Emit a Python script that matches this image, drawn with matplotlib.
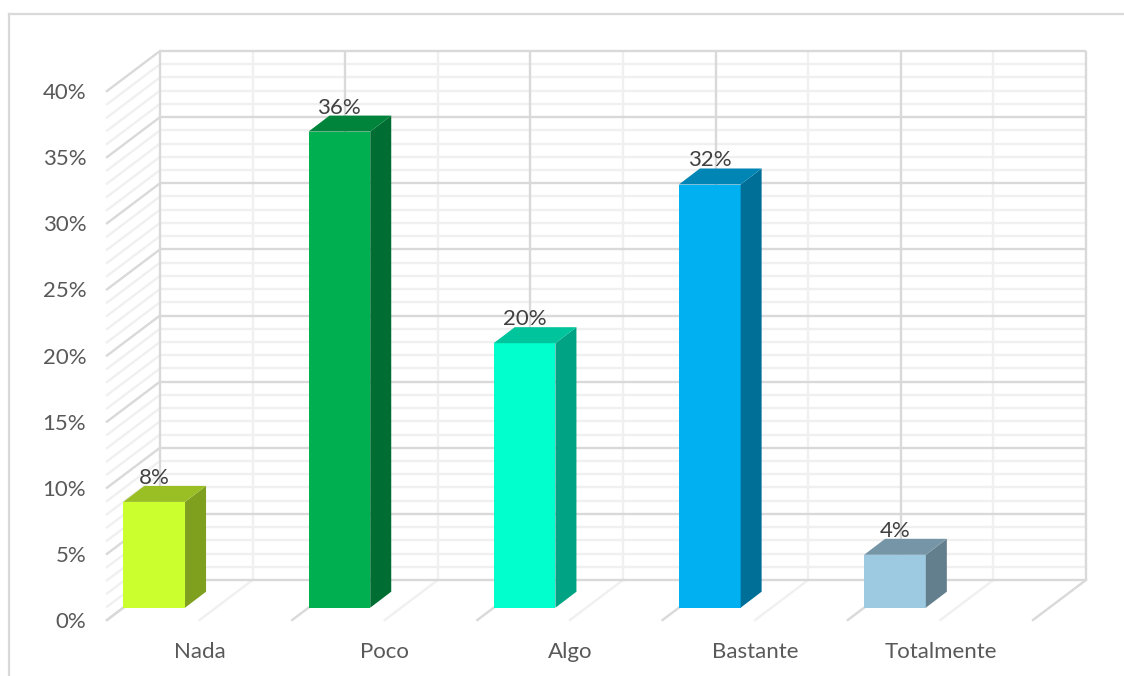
import numpy as np
import matplotlib
matplotlib.use("Agg")
import matplotlib.pyplot as plt
from matplotlib.lines import Line2D
from matplotlib.patches import Polygon
from matplotlib.transforms import Affine2D, IdentityTransform

categories = ["Nada", "Poco", "Algo", "Bastante", "Totalmente"]
values = [8, 36, 20, 32, 4]
front_colors = ["#CCFF2E", "#00B050", "#00FFCC", "#00B0F0", "#9DCAE0"]
top_colors = ["#9ABF24", "#00843C", "#00C49C", "#0085B5", "#7696A8"]
side_colors = ["#7F9F1E", "#006E32", "#00A383", "#006F97", "#637F8D"]
y_ticks = list(range(0, 41, 5))
y_labels = [f"{t}%" for t in y_ticks]

W, H = 1124, 676
MAJOR, MINOR = "#D9D9D9", "#F0F0F0"
TICK_COL, LABEL_COL = "#595959", "#404040"
plt.rcParams["font.family"] = ["Lato", "DejaVu Sans"]

fig = plt.figure(figsize=(W / 100, H / 100), dpi=100, facecolor="white")
ax = fig.add_axes([107 / W, (H - 620) / H, 926 / W, 529 / H])
ax.set_xlim(0, 5)
ax.set_ylim(0, 40)
ax.autoscale(False)
for s in ax.spines.values():
    s.set_visible(False)
ax.patch.set_visible(False)
ax.set_yticks(y_ticks, y_labels, fontsize=16, color=TICK_COL)
ax.set_xticks(np.arange(len(categories)) + 0.5, categories, fontsize=16, color=TICK_COL)
ax.tick_params(axis="y", length=0, pad=15)
ax.tick_params(axis="x", length=0, pad=15.5)

wall = Affine2D().translate(53, 40)
wall_tr = ax.transData + wall
lw = 1.7

# Back wall + left wall horizontals
for v in range(0, 41):
    major = v % 5 == 0
    col, z = (MAJOR, 2) if major else (MINOR, 1)
    ax.plot([0, 5], [v, v], transform=wall_tr, color=col, lw=lw, zorder=z,
            clip_on=False, solid_capstyle="butt")
    p0 = ax.transData.transform((0, v))
    ax.add_line(Line2D([p0[0], p0[0] + 53], [p0[1], p0[1] + 40], transform=IdentityTransform(),
                       color=col, lw=lw, zorder=z, clip_on=False))

# Back wall verticals + floor lines
for i in range(0, 11):
    x = i / 2
    major = i % 2 == 0
    col, z = (MAJOR, 2) if major else (MINOR, 1)
    ax.plot([x, x], [0, 40], transform=wall_tr, color=col, lw=lw, zorder=z,
            clip_on=False, solid_capstyle="butt")
    p0 = ax.transData.transform((x, 0))
    ax.add_line(Line2D([p0[0], p0[0] + 53], [p0[1], p0[1] + 40], transform=IdentityTransform(),
                       color=col, lw=lw, zorder=z, clip_on=False))

# Bars
bar_off = ax.transData + Affine2D().translate(16.3, 12.3)
bar_w = 1 / 3
dx, dy = 21, 16
for i, (v, fc, tc, sc) in enumerate(zip(values, front_colors, top_colors, side_colors)):
    ax.bar(i, v, width=bar_w, align="edge", color=fc, transform=bar_off, zorder=5, clip_on=False)
    (xl, y0), (xr, y1) = bar_off.transform([(i, 0), (i + bar_w, v)])
    ax.add_patch(Polygon([(xr, y0), (xr, y1), (xr + dx, y1 + dy), (xr + dx, y0 + dy)],
                         closed=True, facecolor=sc, edgecolor="none",
                         transform=IdentityTransform(), zorder=5, clip_on=False))
    ax.add_patch(Polygon([(xl, y1), (xr, y1), (xr + dx, y1 + dy), (xl + dx, y1 + dy)],
                         closed=True, facecolor=tc, edgecolor="none",
                         transform=IdentityTransform(), zorder=5, clip_on=False))
    ax.text((xl + xr) / 2, y1 + dy + 2, f"{v}%", transform=IdentityTransform(),
            ha="center", va="baseline", fontsize=16, color=LABEL_COL, zorder=6, clip_on=False)

# Chart frame
frame = dict(color=MAJOR, lw=1.6, transform=fig.transFigure)
fig.add_artist(Line2D([9 / W, 9 / W], [0, (H - 14) / H], **frame))
fig.add_artist(Line2D([9 / W, 1], [(H - 14) / H, (H - 14) / H], **frame))

fig.savefig("out.png", dpi=100)
